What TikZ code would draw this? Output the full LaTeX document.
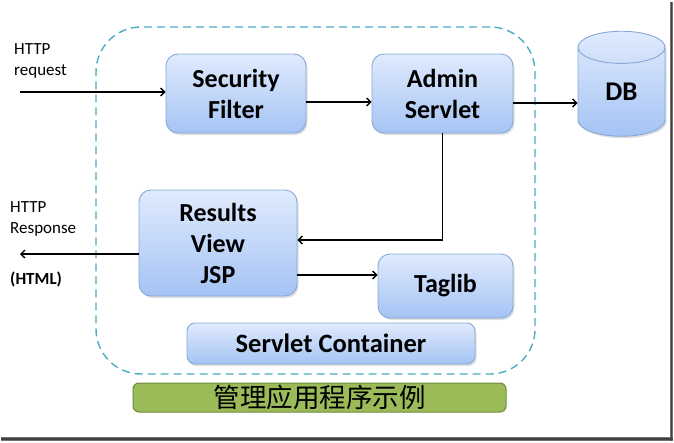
\documentclass[tikz,border=0pt]{standalone}
\usepackage{fontspec}
\setmainfont{Carlito}
\newfontfamily\cjk{Noto Sans CJK SC}
\usetikzlibrary{arrows.meta,shapes.geometric,shadows}
\definecolor{boxtop}{HTML}{E0EBFD}
\definecolor{boxbot}{HTML}{A5C3F4}
\definecolor{boxline}{HTML}{86A7D8}
\definecolor{teal}{HTML}{4BACC6}
\definecolor{lgreen}{HTML}{9BBB59}
\definecolor{dgreen}{HTML}{6E8B3D}
\begin{document}
\begin{tikzpicture}[x=1pt,y=-1pt,
  bluebox/.style={draw=boxline,line width=0.9pt,rounded corners=12pt,top color=boxtop,bottom color=boxbot,
    font=\bfseries\fontsize{26}{31}\selectfont,align=center,inner sep=0pt,
    drop shadow={opacity=0.25,shadow xshift=1.5pt,shadow yshift=-2pt}},
  arr/.style={line width=1.4pt,-{Straight Barb[length=4pt,width=8pt,line width=1.3pt]}},
  small/.style={font=\fontsize{17}{21.5}\selectfont,align=left,inner sep=0pt,anchor=west}]
\useasboundingbox (0,0) rectangle (674,442);
\fill[white] (0,0) rectangle (674,442);
% screenshot shadow
\fill[black!55] (670,2) rectangle (673,441);
\fill[black!55] (1,437) rectangle (673,441);
\fill[black!75] (670.8,2) rectangle (672,441);
\fill[black!75] (1,438) rectangle (673,439.5);
% container
\node[draw=teal,dashed,dash pattern=on 8pt off 5pt,line width=1.4pt,rounded corners=45pt,
  minimum width=439pt,minimum height=347pt,inner sep=0pt] (cont) at (315.5,200.5) {};
% boxes
\node[bluebox,minimum width=140pt,minimum height=79pt] (sec) at (236,93.5) {Security\\Filter};
\node[bluebox,minimum width=141pt,minimum height=79pt] (adm) at (442.5,93.5) {Admin\\Servlet};
\node[bluebox,minimum width=158pt,minimum height=106pt] (res) at (218,243) {Results\\View\\JSP};
\node[bluebox,minimum width=135pt,minimum height=64pt] (tag) at (445.5,286) {Taglib};
\node[bluebox,minimum width=288pt,minimum height=41pt,rounded corners=8pt,font=\bfseries\fontsize{26.5}{31}\selectfont] (sc) at (331,343.5) {Servlet Container};
\node[cylinder,shape border rotate=90,aspect=1,draw=boxline,line width=0.9pt,top color=boxtop,bottom color=boxbot,
  minimum width=87pt,minimum height=105pt,inner sep=0pt,font=\bfseries\fontsize{27}{31}\selectfont,
  drop shadow={opacity=0.25,shadow xshift=1.5pt,shadow yshift=-2pt}] (db) at (621.5,92) {DB};
% label
\node[draw=dgreen,fill=lgreen,line width=1pt,rounded corners=6pt,minimum width=373pt,minimum height=29pt,
  inner sep=0pt,font=\cjk\fontsize{26.5}{28}\selectfont] (lbl) at (319.5,397.5) {管理应用程序示例};
% texts
\node[small] (reqt) at (14,61) {HTTP\\request};
\node[small] (rest) at (10,219) {HTTP\\Response};
\node[small,font=\bfseries\fontsize{17}{20}\selectfont] (html) at (10,279) {(HTML)};
% connectors
\coordinate (reqs) at (20,92);
\coordinate (rese) at (20,254);
\draw[arr] (reqs) -- (reqs -| sec.west);
\draw[arr] ([yshift=-8.5pt]sec.east) -- ([yshift=-8.5pt]sec.east -| adm.west);
\draw[arr] ([yshift=-9.5pt]adm.east) -- ([yshift=-9.5pt]adm.east -| db.west);
\draw[arr] (adm.south) |- ([yshift=3pt]res.east);
\draw[arr] ([yshift=-11pt]res.west) -- (rese);
\draw[arr] ([yshift=-32pt]res.east) -- ([yshift=-32pt]res.east -| tag.west);
\end{tikzpicture}
\end{document}
